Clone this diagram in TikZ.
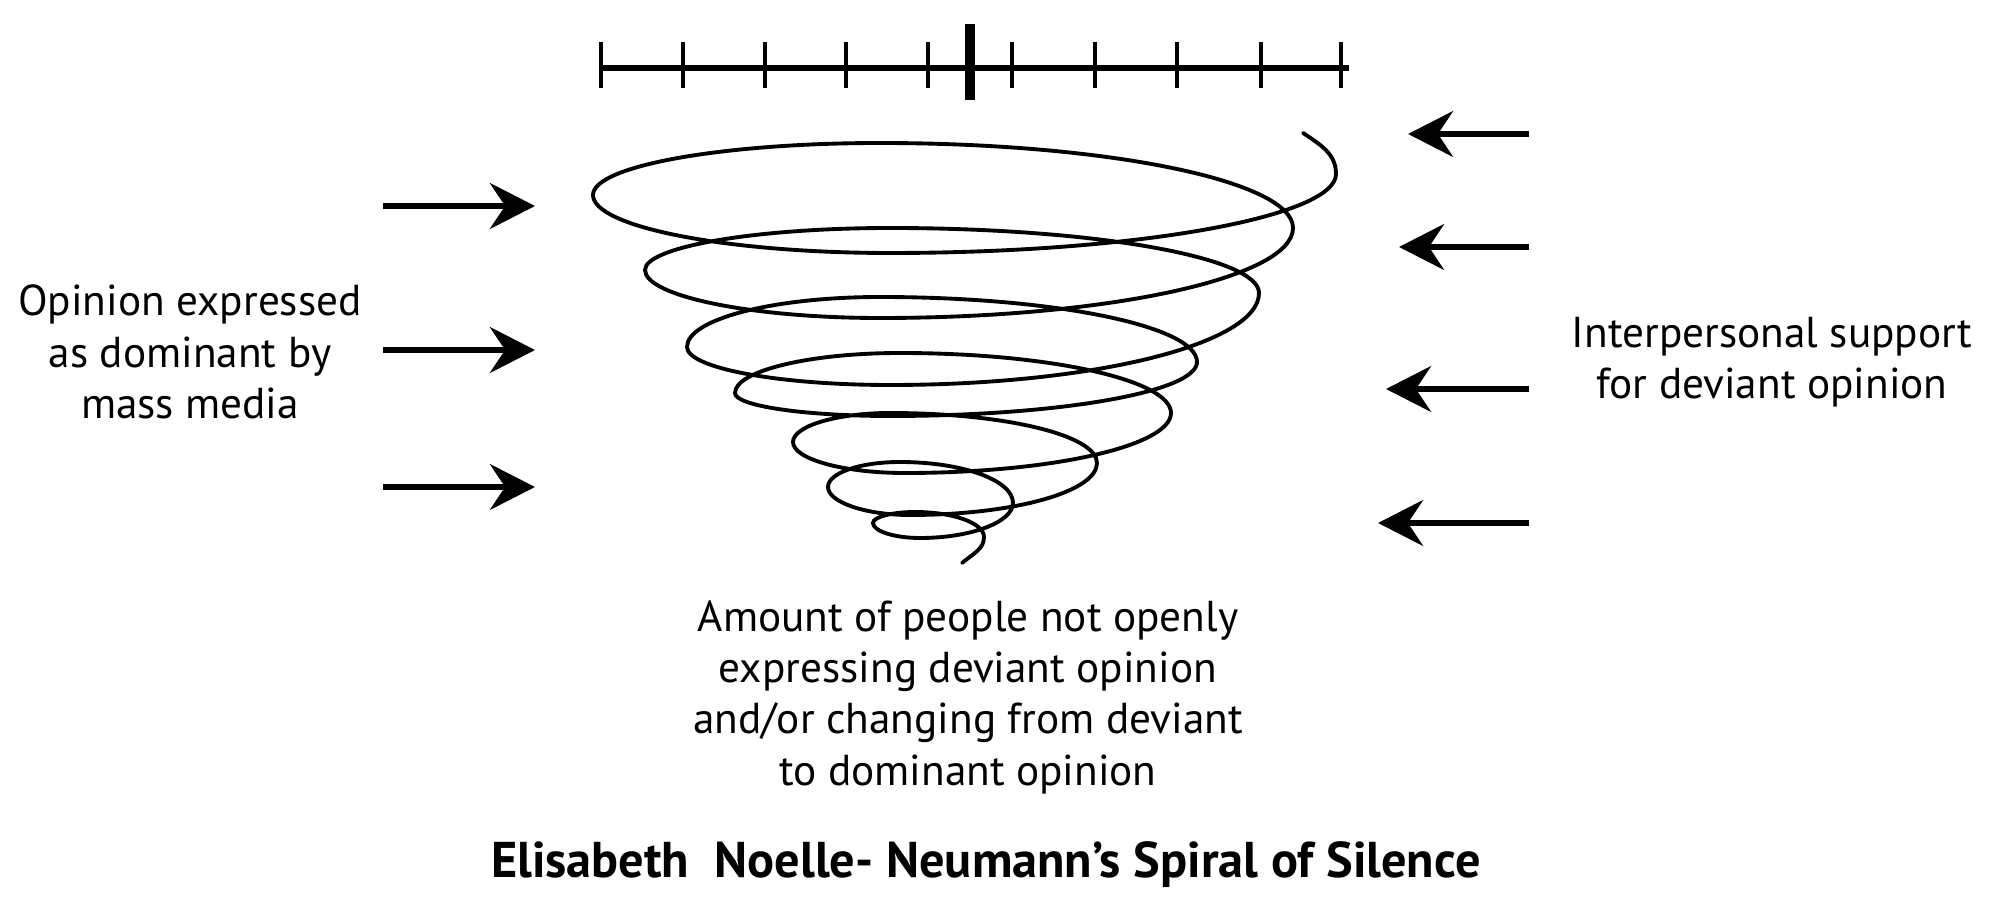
\documentclass[tikz,border=0pt]{standalone}
\usepackage{fontspec}
\setmainfont{PT Sans}
\usetikzlibrary{arrows.meta}
\tikzset{
	node_txt/.style = {
		align=center,
		inner sep=0pt,
		font=\fontsize{12.3}{14.6}\selectfont
	},
	node_title/.style = {
		node_txt,
		font=\fontsize{14.3}{16}\selectfont\bfseries
	},
	arrow_in/.style = {
		->,
		line width=1.7pt
	},
	axis_line/.style = {
		line width=1.8pt
	},
	axis_tick/.style = {
		line width=1.3pt
	},
	axis_mid/.style = {
		line width=2.6pt
	},
	spiral/.style = {
		line width=1.1pt,
		line cap=round
	},
}

\begin{document}
\begin{tikzpicture}[x=0.01cm, y=-0.01cm, >={Stealth[length=12.8pt,width=13pt,inset=4.3pt]}]
\useasboundingbox (0,0) rectangle (2000,916);

% opinion scale
\coordinate (axis_l) at (601,68);
\coordinate (axis_r) at (1349,68);
\draw[axis_line] (axis_l) -- (axis_r);
\foreach \x in {601,683,765,846,928,1012,1095,1177,1261,1341}
	\draw[axis_tick] (\x,42) -- (\x,88);
\draw[axis_mid] (970,24) -- (970,100);

% the spiral, one quarter turn per segment
\draw[spiral] (1303,133)
	.. controls +(18,12) and +(0,-20) .. (1336,174)
	.. controls +(0,43) and +(245,0) .. (890,253)
	.. controls +(-163,0) and +(0,32) .. (593,195)
	.. controls +(0,-29) and +(-158,0) .. (880,143)
	.. controls +(227,0) and +(0,-47) .. (1293,228)
	.. controls +(0,50) and +(227,0) .. (880,318)
	.. controls +(-129,0) and +(0,26) .. (645,270)
	.. controls +(0,-23) and +(-135,0) .. (890,228)
	.. controls +(203,0) and +(0,-36) .. (1259,293)
	.. controls +(0,51) and +(203,0) .. (890,385)
	.. controls +(-112,0) and +(0,21) .. (687,347)
	.. controls +(0,-28) and +(-106,0) .. (880,297)
	.. controls +(174,0) and +(0,-36) .. (1197,362)
	.. controls +(0,30) and +(169,0) .. (890,416)
	.. controls +(-85,0) and +(0,13) .. (735,393)
	.. controls +(0,-22) and +(-91,0) .. (900,353)
	.. controls +(149,0) and +(0,-33) .. (1171,413)
	.. controls +(0,33) and +(146,0) .. (905,473)
	.. controls +(-62,0) and +(0,17) .. (793,442)
	.. controls +(0,-16) and +(-53,0) .. (890,413)
	.. controls +(114,0) and +(0,-28) .. (1097,463)
	.. controls +(0,29) and +(103,0) .. (910,515)
	.. controls +(-45,0) and +(0,15) .. (828,487)
	.. controls +(0,-14) and +(-40,0) .. (900,462)
	.. controls +(62,0) and +(0,-23) .. (1013,503)
	.. controls +(0,19) and +(51,0) .. (920,538)
	.. controls +(-26,0) and +(0,8) .. (873,523)
	.. controls +(0,-6) and +(-23,0) .. (915,512)
	.. controls +(38,0) and +(0,-14) .. (984,537)
	.. controls +(0,12) and +(12,-10) .. (962,563);

% mass media arrows
\foreach \y [count=\i] in {206,350,487} {
	\coordinate (media_s\i) at (383,\y);
	\coordinate (media_e\i) at (535,\y);
	\draw[arrow_in] (media_s\i) -- (media_e\i);
}

% interpersonal support arrows
\foreach \y/\x [count=\i] in {134/1408,247/1399,389/1386,523/1378} {
	\coordinate (support_s\i) at (1529,\y);
	\coordinate (support_e\i) at (\x,\y);
	\draw[arrow_in] (support_s\i) -- (support_e\i);
}

\node[node_txt] (media) at (190,352) {Opinion expressed\\as dominant by\\mass media};
\node[node_txt] (support) at (1772,362) {Interpersonal support\\for deviant opinion};
\node[node_txt] (silent) at (968,697) {Amount of people not openly\\expressing deviant opinion\\and/or changing from deviant\\to dominant opinion};
\node[node_title] (title) at (986,865) {Elisabeth\ \ Noelle- Neumann’s Spiral of Silence};
\end{tikzpicture}
\end{document}
